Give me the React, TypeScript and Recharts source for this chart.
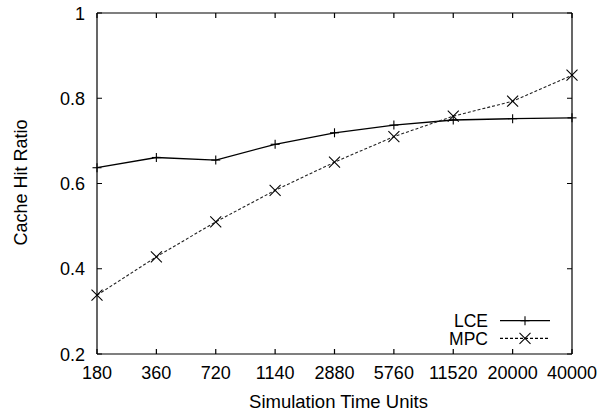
import { Label, Legend, Line, LineChart, ReferenceLine, XAxis, YAxis } from 'recharts'

const periods = ['180', '360', '720', '1140', '2880', '5760', '11520', '20000', '40000']
const lceHitRatio = [0.637, 0.661, 0.655, 0.692, 0.719, 0.737, 0.749, 0.752, 0.754]
const mpcHitRatio = [0.338, 0.428, 0.51, 0.584, 0.65, 0.71, 0.758, 0.793, 0.854]
const ratioTicks = [0.2, 0.4, 0.6, 0.8, 1]

const data = periods.map((period, i) => ({
  period,
  lce: lceHitRatio[i],
  mpc: mpcHitRatio[i],
}))

const FONT = '"Liberation Sans", Arial, Helvetica, sans-serif'
const INK = '#000'
const TICK = 5 // inward tick length

const textStyle = { fontFamily: FONT, fontSize: 18 }

// gnuplot-ish point markers
function PlusDot({ cx, cy }: any) {
  if (cx == null || cy == null) return null
  const r = 4.5
  return (
    <g stroke={INK} strokeWidth={1.1}>
      <line x1={cx - r} y1={cy} x2={cx + r} y2={cy} />
      <line x1={cx} y1={cy - r} x2={cx} y2={cy + r} />
    </g>
  )
}

function CrossDot({ cx, cy }: any) {
  if (cx == null || cy == null) return null
  const r = 5.5
  return (
    <g stroke={INK} strokeWidth={1.1}>
      <line x1={cx - r} y1={cy - r} x2={cx + r} y2={cy + r} />
      <line x1={cx - r} y1={cy + r} x2={cx + r} y2={cy - r} />
    </g>
  )
}

function BottomTick({ x, y, payload }: any) {
  return (
    <text x={x} y={y + 25} textAnchor="middle" fill={INK} style={textStyle}>
      {payload.value}
    </text>
  )
}

function LeftTick({ x, y, payload }: any) {
  return (
    <text x={x - 12} y={y + 6.5} textAnchor="end" fill={INK} style={textStyle}>
      {payload.value}
    </text>
  )
}

// short inward stubs at both ends of a reference line (or the full line for a frame edge)
function stubs(full: boolean) {
  return (p: any) => {
    const { x1, y1, x2, y2 } = p
    let d: string
    if (full) {
      d = `M${x1},${y1}L${x2},${y2}`
    } else if (x1 === x2) {
      const top = Math.min(y1, y2)
      const bot = Math.max(y1, y2)
      d = `M${x1},${top}v${TICK}M${x1},${bot}v${-TICK}`
    } else {
      const l = Math.min(x1, x2)
      const r = Math.max(x1, x2)
      d = `M${l},${y1}h${TICK}M${r},${y1}h${-TICK}`
    }
    return <path d={d} stroke={INK} strokeWidth={1.2} fill="none" />
  }
}

const series = [
  { key: 'LCE', dash: undefined, Marker: PlusDot },
  { key: 'MPC', dash: '3 2', Marker: CrossDot },
]

function KeyBox() {
  return (
    <svg width={130} height={45} style={{ display: 'block', overflow: 'visible' }}>
      {series.map((s, i) => {
        const cy = 15.7 + i * 17.6
        return (
          <g key={s.key}>
            <text x={48} y={cy + 6.2} textAnchor="end" fill={INK} style={{ fontFamily: FONT, fontSize: 17.5 }}>
              {s.key}
            </text>
            <line x1={60} y1={cy} x2={110} y2={cy} stroke={INK} strokeWidth={1.2} strokeDasharray={s.dash} />
            <s.Marker cx={85} cy={cy} />
          </g>
        )
      })}
    </svg>
  )
}

export default function App() {
  const last = periods[periods.length - 1]
  const top = ratioTicks[ratioTicks.length - 1]
  return (
    <div style={{ position: 'absolute', left: 0, top: 0, background: '#fff', fontFamily: FONT }}>
      <LineChart width={600} height={414} data={data} margin={{ top: 13, right: 28, bottom: 0, left: 0 }}>
        <XAxis
          dataKey="period"
          type="category"
          scale="point"
          interval={0}
          height={60}
          stroke={INK}
          strokeWidth={1.2}
          tickLine={false}
          tickSize={0}
          tickMargin={0}
          tick={<BottomTick />}
        >
          <Label
            content={({ viewBox }: any) => (
              <text
                x={viewBox.x + viewBox.width / 2 + 4}
                y={viewBox.y + 54}
                textAnchor="middle"
                fill={INK}
                style={{ fontFamily: FONT, fontSize: 18.5 }}
              >
                Simulation Time Units
              </text>
            )}
          />
        </XAxis>
        <YAxis
          type="number"
          domain={[0.2, 1]}
          ticks={ratioTicks}
          width={97}
          stroke={INK}
          strokeWidth={1.2}
          tickLine={false}
          tickSize={0}
          tickMargin={0}
          tick={<LeftTick />}
        >
          <Label
            content={({ viewBox }: any) => {
              const x = 27
              const y = viewBox.y + viewBox.height / 2 - 1
              return (
                <text
                  x={x}
                  y={y}
                  transform={`rotate(-90 ${x} ${y})`}
                  textAnchor="middle"
                  fill={INK}
                  style={textStyle}
                >
                  Cache Hit Ratio
                </text>
              )
            }}
          />
        </YAxis>

        {/* frame: top and right edges, plus inward tick stubs on all four sides */}
        <ReferenceLine y={top} shape={stubs(true)} />
        <ReferenceLine x={last} shape={stubs(true)} />
        {ratioTicks.map((v) => (
          <ReferenceLine key={`y${v}`} y={v} shape={stubs(false)} />
        ))}
        {periods.map((p) => (
          <ReferenceLine key={`x${p}`} x={p} shape={stubs(false)} />
        ))}

        <Legend
          layout="vertical"
          align="center"
          verticalAlign="middle"
          wrapperStyle={{ position: 'absolute', left: 440, top: 305, width: 130, height: 45 }}
          content={() => <KeyBox />}
        />
        <Line
          dataKey="lce"
          name="LCE"
          stroke={INK}
          strokeWidth={1.3}
          dot={<PlusDot />}
          activeDot={false}
          isAnimationActive={false}
        />
        <Line
          dataKey="mpc"
          name="MPC"
          stroke="#222"
          strokeWidth={1.1}
          strokeDasharray="3 2"
          dot={<CrossDot />}
          activeDot={false}
          isAnimationActive={false}
        />
      </LineChart>
    </div>
  )
}
